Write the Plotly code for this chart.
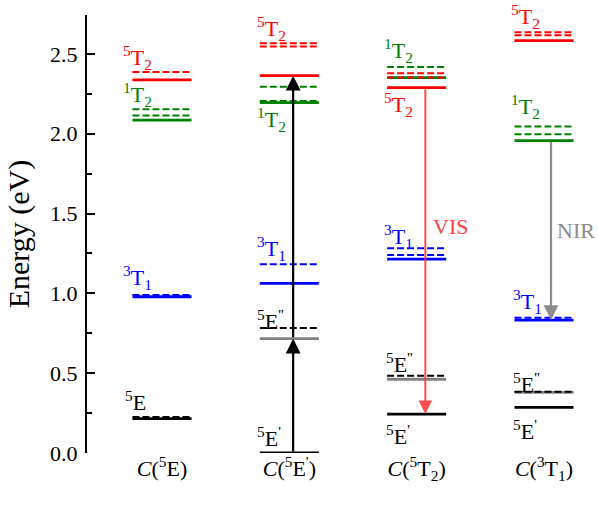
import plotly.graph_objects as go

# ---------------- data ----------------
col_pos = [1, 2, 3, 4]
col_text = ["<i>C</i>(<sup>5</sup>E)", "<i>C</i>(<sup>5</sup>E<sup>'</sup>)",
            "<i>C</i>(<sup>5</sup>T<sub>2</sub>)", "<i>C</i>(<sup>3</sup>T<sub>1</sub>)"]

# energy levels (eV) per column; None = absent
T2_5_solid = [2.337, 2.364, 2.289, 2.583]
T2_5_dashed = [[2.387], [2.567, 2.546], [2.379, 2.352], [2.636, 2.617]]
T2_1_solid = [2.086, 2.195, 2.352, 1.957]
T2_1_dashed = [[2.153, 2.114], [2.295, 2.205], [2.418], [2.045, 1.997]]
T1_3_solid = [0.979, 1.063, 1.214, 0.833]
T1_3_dashed = [[0.99], [1.182], [1.283, 1.241], [0.848]]
E_pp_solid = [None, 0.716, 0.462, 0.380]     # grey solid
E_pp_dashed = [[], [0.783], [0.484], [0.383]]
E_p_solid = [0.215, 0.0, 0.244, 0.286]       # black solid (5E / 5E')
E_p_dashed = [[0.225], [], [], []]

# transitions: (column, from, to)
arrows_up = [(2, 0.0, 0.716), (2, 0.716, 2.364)]
arrow_vis = (3, 2.289, 0.244)
arrow_nir = (4, 1.957, 0.833)

RED, GREEN, BLUE, BLACK, GREY = "#ff0000", "#008000", "#0000ff", "#000000", "#808080"
FONT = "Liberation Serif"
HALF = 0.232
DASH = "7px,3px"
LSIZE = 22

fig = go.Figure()

def add_level(col, e, color, dashed):
    if e is None:
        return
    fig.add_trace(go.Scatter(
        x=[col - HALF, col + HALF], y=[e, e], mode="lines",
        line=dict(color=color, width=2 if dashed else 2.8, dash=DASH if dashed else "solid"),
        showlegend=False, hoverinfo="skip"))

for i, c in enumerate(col_pos):
    # solids first, dashed drawn on top
    add_level(c, E_pp_solid[i], GREY, False)
    add_level(c, E_p_solid[i], BLACK, False)
    add_level(c, T1_3_solid[i], BLUE, False)
    add_level(c, T2_1_solid[i], GREEN, False)
    add_level(c, T2_5_solid[i], RED, False)
    for e in E_pp_dashed[i]:
        add_level(c, e, BLACK, True)
    for e in E_p_dashed[i]:
        add_level(c, e, BLACK, True)
    for e in T1_3_dashed[i]:
        add_level(c, e, BLUE, True)
    for e in T2_1_dashed[i]:
        add_level(c, e, GREEN, True)
    for e in T2_5_dashed[i]:
        add_level(c, e, RED, True)

annotations = []

def arrow(col, e0, e1, color, width, dx):
    annotations.append(dict(
        x=col + dx, y=e1, ax=col + dx, ay=e0, xref="x", yref="y", axref="x", ayref="y",
        showarrow=True, arrowhead=2, arrowsize=1.35, arrowwidth=width, arrowcolor=color, text=""))

for c, a, b in arrows_up:
    arrow(c, a, b, BLACK, 2.2, 0.03)
arrow(arrow_vis[0], arrow_vis[1], arrow_vis[2], "rgba(255,60,60,0.9)", 2, 0.068)
arrow(arrow_nir[0], arrow_nir[1], arrow_nir[2], "#8c8c8c", 2.2, 0.055)

def lab(col, text, color, e, yshift, xshift):
    annotations.append(dict(
        x=col, y=e, xref="x", yref="y", text=text, showarrow=False,
        xanchor="left", yanchor="middle", xshift=xshift, yshift=yshift,
        font=dict(family=FONT, size=LSIZE, color=color)))

T25 = "<sup>5</sup>T<sub>2</sub>"
T21 = "<sup>1</sup>T<sub>2</sub>"
T13 = "<sup>3</sup>T<sub>1</sub>"
E5 = "<sup>5</sup>E"
E5p = "<sup>5</sup>E<sup>'</sup>"
E5pp = "<sup>5</sup>E<sup>''</sup>"

# column 1
lab(1, T25, RED, T2_5_dashed[0][0], 14, -41)
lab(1, T21, GREEN, T2_1_dashed[0][0], 15, -41)
lab(1, T13, BLUE, T1_3_dashed[0][0], 17, -41)
lab(1, E5, BLACK, E_p_dashed[0][0], 16, -39)
# column 2
lab(2, T25, RED, T2_5_dashed[1][0], 15, -34)
lab(2, T21, GREEN, T2_1_solid[1], -17, -34)
lab(2, T13, BLUE, T1_3_dashed[1][0], 16, -34)
lab(2, E5pp, BLACK, E_pp_dashed[1][0], 8, -34)
lab(2, E5p, BLACK, E_p_solid[1], 16, -34)
# column 3
lab(3, T21, GREEN, T2_1_dashed[2][0], 17, -35)
lab(3, T25, RED, T2_5_solid[2], -17, -35)
lab(3, T13, BLUE, T1_3_dashed[2][0], 12, -35)
lab(3, E5pp, BLACK, E_pp_dashed[2][0], 13, -33)
lab(3, E5p, BLACK, E_p_solid[2], -21, -33)
# column 4
lab(4, T25, RED, T2_5_dashed[3][0], 16, -35)
lab(4, T21, GREEN, T2_1_dashed[3][0], 20, -35)
lab(4, T13, BLUE, T1_3_dashed[3][0], 16, -33)
lab(4, E5pp, BLACK, E_pp_dashed[3][0], 9, -33)
lab(4, E5p, BLACK, E_p_solid[3], -23, -33)

# transition names
annotations.append(dict(x=arrow_vis[0], y=(arrow_vis[1] + arrow_vis[2]) / 2 + 0.15, xref="x", yref="y",
                        text="VIS", showarrow=False, xanchor="left", xshift=14,
                        font=dict(family=FONT, size=LSIZE, color="#ff4040")))
annotations.append(dict(x=arrow_nir[0], y=(arrow_nir[1] + arrow_nir[2]) / 2, xref="x", yref="y",
                        text="NIR", showarrow=False, xanchor="left", xshift=11,
                        font=dict(family=FONT, size=LSIZE, color="#8c8c8c")))

fig.update_layout(
    width=599, height=508,
    margin=dict(l=87, r=0, t=15, b=55),
    paper_bgcolor="white", plot_bgcolor="white",
    font=dict(family=FONT, size=20, color="black"),
    annotations=annotations,
    xaxis=dict(range=[0.411, 4.432], showgrid=False, zeroline=False, showline=False,
               tickvals=col_pos, ticktext=col_text, ticks="",
               tickfont=dict(family=FONT, size=22, color="black")),
    yaxis=dict(range=[0, 2.744], showgrid=False, zeroline=False, showline=True,
               linecolor="black", linewidth=2, ticks="inside", ticklen=8, tickwidth=2,
               tickcolor="black", tickvals=[0, 0.5, 1.0, 1.5, 2.0, 2.5], tickformat=".1f",
               tickfont=dict(family=FONT, size=22, color="black"), ticklabelstandoff=3,
               minor=dict(ticks="inside", ticklen=5, tickwidth=1.5, tickcolor="black",
                          tickvals=[0.25, 0.75, 1.25, 1.75, 2.25]),
               title=dict(text="Energy (eV)", font=dict(family=FONT, size=30, color="black"),
                          standoff=12)),
)

fig.write_html("out.html")
